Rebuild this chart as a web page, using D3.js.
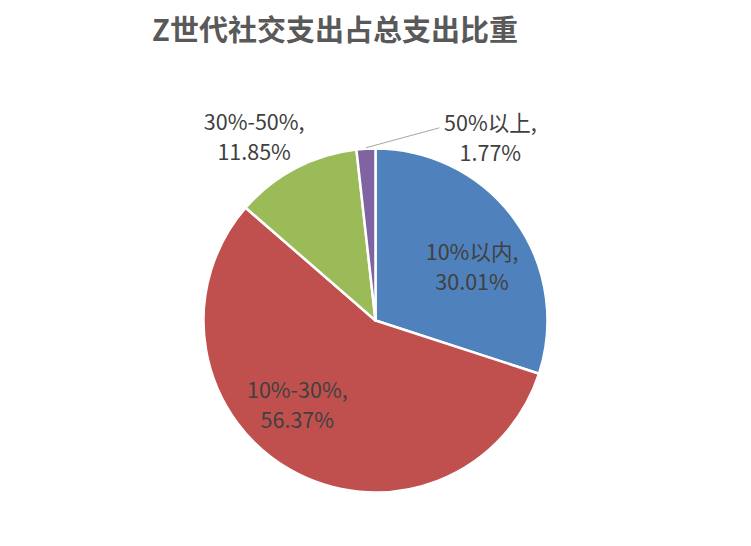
<!DOCTYPE html>
<html>
<head>
<meta charset="utf-8">
<script src="https://cdn.jsdelivr.net/npm/d3@7"></script>
<style>
  html, body { margin: 0; padding: 0; background: #ffffff; }
  svg text { font-family: "Noto Sans CJK SC", "Microsoft YaHei", sans-serif; }
</style>
</head>
<body>
<div id="chart"></div>
<script>
// ---------------------------------------------------------------
// DATA
// ---------------------------------------------------------------
const title = "Z世代社交支出占总支出比重";
const categories = ["10%以内", "10%-30%", "30%-50%", "50%以上"];
const shares = [30.01, 56.37, 11.85, 1.77];
const colors = ["#4F81BD", "#C0504D", "#9BBB59", "#8064A2"];

// ---------------------------------------------------------------
// LAYOUT
// ---------------------------------------------------------------
const width = 751, height = 546;
const cx = 375.5, cy = 320.5, radius = 172;

// label placement: radius from centre + nudge, per slice
const labelLayout = [
  { r: 107, dx: 10,  dy: 10 },
  { r: 110, dx: -24, dy: -10 },
  { r: 218, dx: -20, dy: 10 },
  { r: 200, dx: 126, dy: 18, leader: true }
];

const svg = d3.select("#chart")
  .append("svg")
  .attr("width", width)
  .attr("height", height);

svg.append("text")
  .attr("x", 335)
  .attr("y", 41)
  .attr("text-anchor", "middle")
  .style("font-size", "29px")
  .style("font-weight", "bold")
  .style("fill", "#595959")
  .text(title);

const data = categories.map((c, i) => ({ name: c, value: shares[i], color: colors[i] }));

const pie = d3.pie().sort(null).value(d => d.value);
const arcs = pie(data);

const arc = d3.arc().innerRadius(0).outerRadius(radius);

const g = svg.append("g").attr("transform", `translate(${cx},${cy})`);

g.selectAll("path")
  .data(arcs)
  .enter()
  .append("path")
  .attr("d", arc)
  .attr("fill", d => d.data.color)
  .attr("stroke", "#ffffff")
  .attr("stroke-width", 2.5)
  .attr("stroke-linejoin", "round");

// ---------------------------------------------------------------
// LABELS
// ---------------------------------------------------------------
arcs.forEach((d, i) => {
  const L = labelLayout[i];
  const mid = (d.startAngle + d.endAngle) / 2;
  const x = Math.sin(mid) * L.r + L.dx;
  const y = -Math.cos(mid) * L.r + L.dy;

  if (L.leader) {
    const px = Math.sin(mid) * (radius + 1);
    const py = -Math.cos(mid) * (radius + 1);
    g.append("line")
      .attr("x1", px).attr("y1", py)
      .attr("x2", x - 51).attr("y2", y - 11)
      .attr("stroke", "#a6a6a6")
      .attr("stroke-width", 1);
  }

  const t = g.append("text")
    .attr("text-anchor", "middle")
    .style("font-size", "21.5px")
    .style("fill", "#404040");
  t.append("tspan")
    .attr("x", x).attr("y", y - 8)
    .text(d.data.name + ",");
  t.append("tspan")
    .attr("x", x).attr("y", y + 22)
    .text(d3.format(".2f")(d.data.value) + "%");
});
</script>
</body>
</html>
